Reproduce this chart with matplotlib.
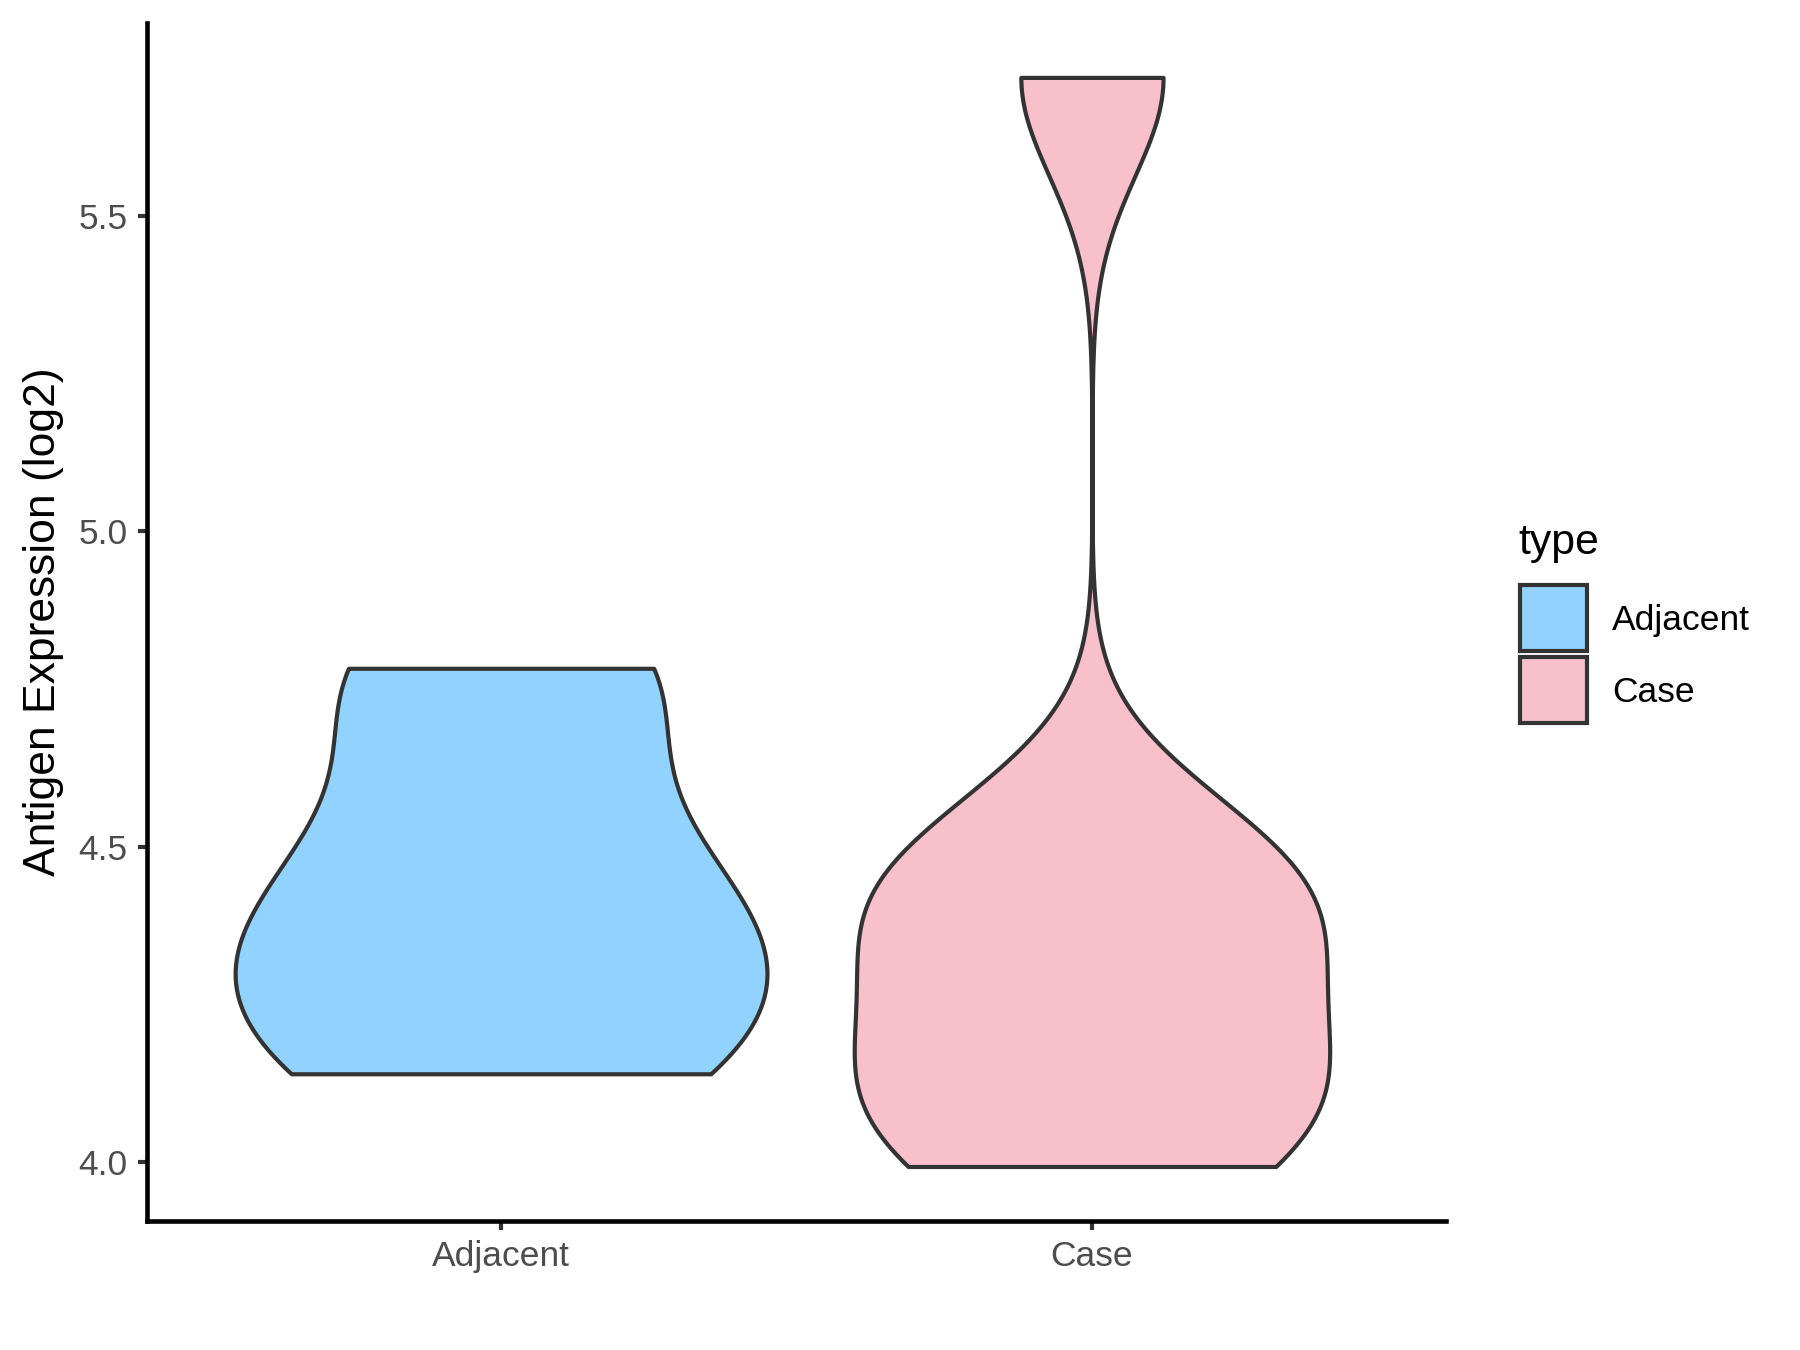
import numpy as np
import matplotlib
matplotlib.use("Agg")
import matplotlib.pyplot as plt
from matplotlib import cbook
from matplotlib.patches import Rectangle

# values (log2 expression)
groups = ["Adjacent", "Case"]
adjacent = [4.140, 4.140, 4.310, 4.310, 4.429, 4.542, 4.783, 4.783]
case = [3.993, 4.114, 4.116, 4.334, 4.453, 4.461, 5.720]
fills = ["#91D3FE", "#F7C0CB"]
yticks = [4.0, 4.5, 5.0, 5.5]


def nrd0(x):
    # same rule of thumb as R's bw.nrd0 (ggplot default)
    x = np.asarray(x, float)
    sd = np.std(x, ddof=1)
    q75, q25 = np.percentile(x, [75, 25])
    lo = min(sd, (q75 - q25) / 1.34)
    if lo == 0:
        lo = sd
    return 0.9 * lo * len(x) ** -0.2


def kde(x, coords):
    x = np.asarray(x, float)
    h = nrd0(x)
    z = (coords[:, None] - x[None, :]) / h
    return np.exp(-0.5 * z ** 2).sum(1) / (len(x) * h * np.sqrt(2 * np.pi))


plt.rcParams['font.family'] = ['Liberation Sans', 'DejaVu Sans']
fig = plt.figure(figsize=(12, 9), dpi=150)
ax = fig.add_axes([0.0814, 0.0956, 0.7222, 0.8874])

stats = cbook.violin_stats([adjacent, case], kde, points=512)
# scale="area": widths relative to the biggest density of all groups
dmax = max(s['vals'].max() for s in stats)
widths = [0.9 * s['vals'].max() / dmax for s in stats]
parts = ax.violin(stats, positions=[1, 2], widths=widths,
                  showmeans=False, showextrema=False, showmedians=False)
for body, c in zip(parts['bodies'], fills):
    body.set_facecolor(c)
    body.set_edgecolor('#333333')
    body.set_linewidth(2.0)
    body.set_alpha(1)

lo = min(min(adjacent), min(case))
hi = max(max(adjacent), max(case))
pad = 0.05 * (hi - lo)
ax.set_ylim(lo - pad, hi + pad)
ax.set_xlim(0.4, 2.6)

ax.set_xticks([1, 2])
ax.set_xticklabels(groups)
ax.set_yticks(yticks)
ax.set_yticklabels(["%.1f" % t for t in yticks])

for s in ['top', 'right']:
    ax.spines[s].set_visible(False)
for s in ['left', 'bottom']:
    ax.spines[s].set_linewidth(2.2)
    ax.spines[s].set_color('black')
    ax.spines[s].set_capstyle('projecting')
ax.tick_params(direction='out', length=4.5, width=2.0, color='#333333',
               labelsize=17, labelcolor='#4D4D4D', pad=4.5)

ax.set_ylabel("Antigen Expression (log2)", fontsize=21.3, color='black',
              ha='center', va='center', rotation_mode='default')
ax.yaxis.set_label_coords(-0.079, 0.5)

# legend drawn by hand to sit like ggplot's guide
fig.text(1518 / 1800, 1 - 554 / 1350, "type", fontsize=20.5, ha='left', va='baseline')
key_bottoms = [1 - 651 / 1350, 1 - 723 / 1350]
label_bases = [1 - 630 / 1350, 1 - 702 / 1350]
for g, c, kb, lb in zip(groups, fills, key_bottoms, label_bases):
    fig.add_artist(Rectangle((1520 / 1800, kb), 67 / 1800, 66 / 1350,
                             transform=fig.transFigure, facecolor=c,
                             edgecolor='#333333', linewidth=2.0))
    fig.text(1612 / 1800, lb, g, fontsize=17, ha='left', va='baseline')

fig.savefig("out.png", dpi=150)
